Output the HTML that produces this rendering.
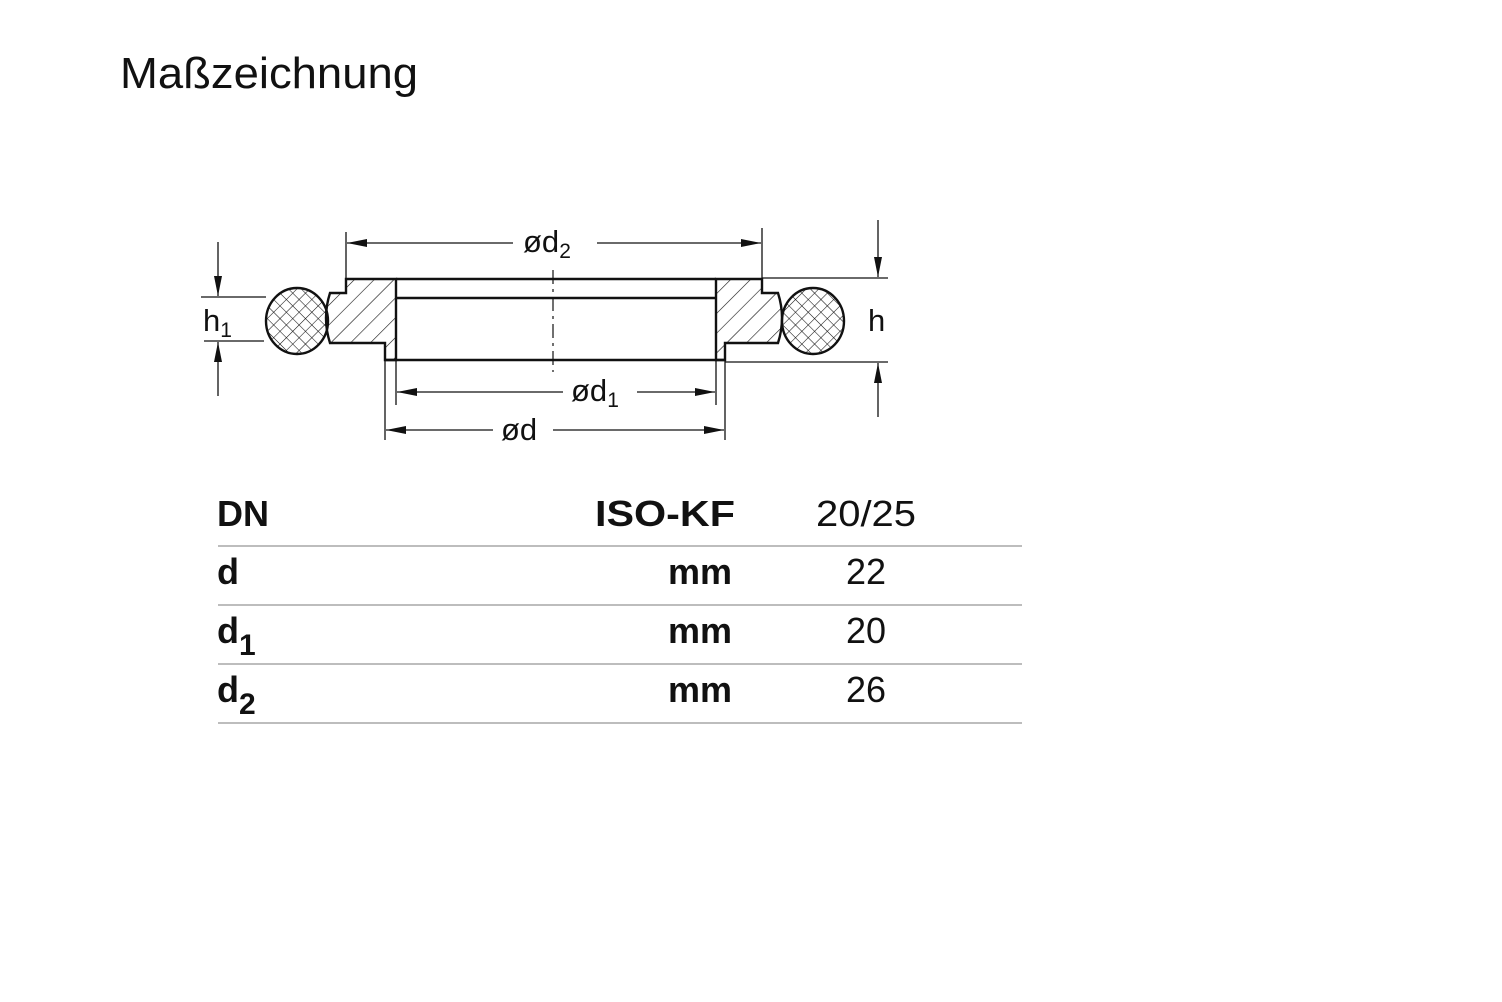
<!DOCTYPE html>
<html><head><meta charset="utf-8"><style>
html,body{margin:0;padding:0;background:#fff;}
svg{display:block;}
text{font-family:"Liberation Sans",sans-serif;fill:#111;}
</style></head><body>
<svg width="1502" height="1002" viewBox="0 0 1502 1002" xmlns="http://www.w3.org/2000/svg">
<defs>
<pattern id="hatch" patternUnits="userSpaceOnUse" width="14" height="14" patternTransform="rotate(45)">
<line x1="0" y1="0" x2="0" y2="14" stroke="#111" stroke-width="1.2"/>
</pattern>
<pattern id="cross" patternUnits="userSpaceOnUse" width="9" height="9" patternTransform="rotate(45)">
<line x1="0" y1="0" x2="0" y2="9" stroke="#111" stroke-width="1.1"/>
<line x1="0" y1="0" x2="9" y2="0" stroke="#111" stroke-width="1.1"/>
</pattern>
<marker id="ar" viewBox="0 0 20 8" refX="20" refY="4" markerWidth="20" markerHeight="8" markerUnits="userSpaceOnUse" orient="auto">
<path d="M0,0 L20,4 L0,8 Z" fill="#111"/>
</marker>
</defs>

<text x="120" y="88" font-size="44" textLength="298" lengthAdjust="spacingAndGlyphs">Maßzeichnung</text>

<g stroke="#111" fill="none" stroke-width="2.4">
<path d="M346,279 L396,279 L396,360 L385,360 L385,343 L330,343 Q322,318 330,293 L346,293 Z" fill="url(#hatch)"/>
<path d="M762,279 L716,279 L716,360 L725,360 L725,343 L778,343 Q786,318 778,293 L762,293 Z" fill="url(#hatch)"/>
<line x1="396" y1="279" x2="716" y2="279"/>
<line x1="396" y1="298" x2="716" y2="298"/>
<line x1="385" y1="360" x2="725" y2="360"/>
<ellipse cx="297" cy="321" rx="31" ry="33" fill="url(#cross)"/>
<ellipse cx="813" cy="321" rx="31" ry="33" fill="url(#cross)"/>
</g>
<line x1="553" y1="270" x2="553" y2="372" stroke="#111" stroke-width="1.2" stroke-dasharray="14,5,3,5"/>

<g stroke="#111" stroke-width="1.3" fill="none">
<line x1="346" y1="232" x2="346" y2="279"/>
<line x1="762" y1="228" x2="762" y2="279"/>
<line x1="396" y1="360" x2="396" y2="405"/>
<line x1="716" y1="360" x2="716" y2="405"/>
<line x1="385" y1="360" x2="385" y2="440"/>
<line x1="725" y1="360" x2="725" y2="440"/>
<line x1="762" y1="278" x2="888" y2="278"/>
<line x1="725" y1="362" x2="888" y2="362"/>
<line x1="201" y1="297" x2="266" y2="297"/>
<line x1="204" y1="341" x2="264" y2="341"/>
<line x1="513" y1="243" x2="347" y2="243" marker-end="url(#ar)"/>
<line x1="597" y1="243" x2="761" y2="243" marker-end="url(#ar)"/>
<line x1="563" y1="392" x2="397" y2="392" marker-end="url(#ar)"/>
<line x1="637" y1="392" x2="715" y2="392" marker-end="url(#ar)"/>
<line x1="493" y1="430" x2="386" y2="430" marker-end="url(#ar)"/>
<line x1="553" y1="430" x2="724" y2="430" marker-end="url(#ar)"/>
<line x1="878" y1="220" x2="878" y2="277" marker-end="url(#ar)"/>
<line x1="878" y1="417" x2="878" y2="363" marker-end="url(#ar)"/>
<line x1="218" y1="242" x2="218" y2="296" marker-end="url(#ar)"/>
<line x1="218" y1="396" x2="218" y2="342" marker-end="url(#ar)"/>
</g>

<g font-size="31">
<text x="523" y="252">ød<tspan font-size="21" dy="6">2</tspan></text>
<text x="571" y="401">ød<tspan font-size="21" dy="6">1</tspan></text>
<text x="501" y="440">ød</text>
<text x="203" y="331">h<tspan font-size="21" dy="6">1</tspan></text>
<text x="868" y="331">h</text>
</g>

<g font-size="36">
<text x="217" y="526" font-weight="bold">DN</text>
<text x="595" y="526" font-weight="bold" textLength="140" lengthAdjust="spacingAndGlyphs">ISO-KF</text>
<text x="866" y="526" text-anchor="middle" textLength="100" lengthAdjust="spacingAndGlyphs">20/25</text>
<text x="217" y="584" font-weight="bold">d</text>
<text x="732" y="584" font-weight="bold" text-anchor="end">mm</text>
<text x="866" y="584" text-anchor="middle">22</text>
<text x="217" y="643" font-weight="bold">d<tspan font-size="30" dy="12">1</tspan></text>
<text x="732" y="643" font-weight="bold" text-anchor="end">mm</text>
<text x="866" y="643" text-anchor="middle">20</text>
<text x="217" y="702" font-weight="bold">d<tspan font-size="30" dy="12">2</tspan></text>
<text x="732" y="702" font-weight="bold" text-anchor="end">mm</text>
<text x="866" y="702" text-anchor="middle">26</text>
</g>
<g stroke="#bdbdbd" stroke-width="2">
<line x1="218" y1="546" x2="1022" y2="546"/>
<line x1="218" y1="605" x2="1022" y2="605"/>
<line x1="218" y1="664" x2="1022" y2="664"/>
<line x1="218" y1="723" x2="1022" y2="723"/>
</g>
</svg>
</body></html>
